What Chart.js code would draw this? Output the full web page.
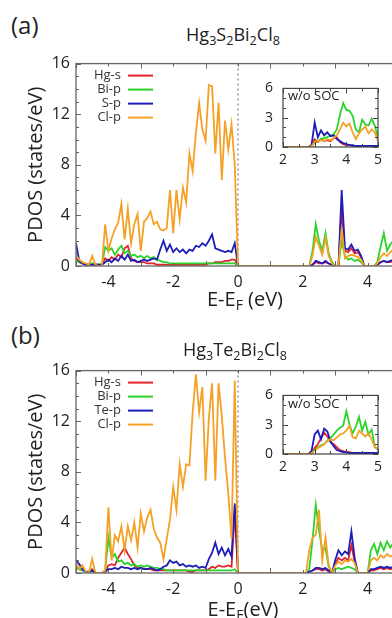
<!DOCTYPE html>
<html>
<head>
<meta charset="utf-8">
<script src="https://cdn.jsdelivr.net/npm/chart.js@4.4.1/dist/chart.umd.min.js"></script>
<style>
  html, body { margin: 0; padding: 0; background: #fff; }
  body { width: 392px; height: 618px; overflow: hidden; position: relative; font-family: "Open Sans", sans-serif; color: #222; }
  canvas { position: absolute; }
  .txt { position: absolute; white-space: nowrap; line-height: 1; }
  .mid { transform: translateX(-50%); }
  sub { font-size: 0.7em; vertical-align: -0.28em; line-height: 0; }
</style>
</head>
<body>
<div class="txt" style="left:11px;top:13px;font-size:24px">(a)</div>
<div class="txt mid" style="left:233px;top:25px;font-size:18px">Hg<sub>3</sub>S<sub>2</sub>Bi<sub>2</sub>Cl<sub>8</sub></div>
<canvas id="mainA" width="400" height="248" style="left:0;top:48px"></canvas>
<canvas id="insetA" width="147" height="99" style="left:240px;top:70px"></canvas>
<div class="txt" style="left:288px;top:89px;font-size:13px">w/o SOC</div>
<div class="txt mid" style="left:245px;top:289px;font-size:20px">E-E<sub>F</sub> (eV)</div>

<div class="txt" style="left:11px;top:323px;font-size:24px">(b)</div>
<div class="txt mid" style="left:235px;top:340px;font-size:18px">Hg<sub>3</sub>Te<sub>2</sub>Bi<sub>2</sub>Cl<sub>8</sub></div>
<canvas id="mainB" width="400" height="248" style="left:0;top:355px"></canvas>
<canvas id="insetB" width="147" height="99" style="left:240px;top:377px"></canvas>
<div class="txt" style="left:288px;top:397px;font-size:13px">w/o SOC</div>
<div class="txt mid" style="left:243px;top:599px;font-size:20px">E-E<sub>F</sub>(eV)</div>

<script>
// ---- data ----
const labelsA = ['Hg-s', 'Bi-p', 'S-p', 'Cl-p'];
const labelsB = ['Hg-s', 'Bi-p', 'Te-p', 'Cl-p'];
const lineColours = ['#e4232b', '#2bd42b', '#1d1db8', '#f4a126'];
const mainXTicks = [-4, -2, 0, 2, 4];
const mainYTicks = [0, 4, 8, 12, 16];
const insetXTicks = [2, 3, 4, 5];
const insetYTicks = [0, 3, 6];
const fermiLevel = 0;

// energies, 0.1 eV steps
function grid(from, count) {
  const out = [];
  for (let i = 0; i < count; i++) out.push(+(from + i * 0.1).toFixed(2));
  return out;
}
const valenceE = grid(-5.0, 51);    // -5.0 .. 0.0
const conductionE = grid(2.1, 30);  //  2.1 .. 5.0
const insetE = grid(2.0, 31);       //  2.0 .. 5.0

// (a) Hg3S2Bi2Cl8, valence band
const hgA = [0.6,0.3,0.2,0.1,0.1,0.2,0.1,0.1,0.1,0.6, 0.4,0.7,0.5,0.9,0.7,1.4,1.6,0.6,0.4,0.3,
  0.3,0.3,0.2,0.2,0.2,0.1,0.1,0.1,0.1,0.1, 0.1,0.1,0.1,0.1,0.1,0.1,0.1,0.1,0.1,0.1,
  0.1,0.2,0.2,0.3,0.3,0.3,0.4,0.4,0.5,0.5, 0];
const biA = [0.4,0.3,0.2,0.1,0.1,0.2,0.1,0.1,0.1,1.5, 1.2,1.4,0.9,1.3,1.6,1.0,1.2,0.8,0.9,0.7,
  0.8,0.6,0.8,0.6,0.7,0.5,0.4,0.3,0.3,0.2, 0.2,0.2,0.2,0.2,0.2,0.2,0.2,0.2,0.2,0.2,
  0.2,0.2,0.2,0.2,0.2,0.2,0.2,0.2,0.2,0.2, 0];
const sA = [1.8,0.4,0.2,0.1,0.1,0.1,0.1,0.1,0.1,0.3, 0.5,0.3,0.6,0.4,0.8,0.5,0.9,0.4,0.5,0.3,
  0.4,0.5,0.4,0.5,0.6,0.5,1.3,2.0,1.2,1.7, 1.1,1.4,1.1,1.3,1.0,1.3,1.2,1.6,1.5,1.8,
  1.6,2.0,2.5,1.4,1.3,1.2,1.1,1.2,1.1,1.8, 0];
const clA = [0.8,0.5,0.3,0.2,0.1,0.8,0.1,0.0,0.0,3.3, 1.2,2.2,2.9,3.4,4.9,2.1,4.5,1.8,3.3,4.1,
  1.2,3.5,3.8,4.3,3.3,3.5,2.9,2.8,3.0,6.0, 2.6,6.0,3.7,6.2,5.0,8.9,7.5,10.5,12.9,10.8,
  9.9,14.3,14.2,8.9,12.9,6.8,11.5,9.2,11.2,8.0, 0];
// (a) conduction band
const hgCondA = [0, 0,0.1,0.3,0.2,0.2,0.3,0.2,0.1,0, 0,4.5,1.2,1.1,1.4,1.0,1.1,0.7,0,0, 0,0,0.1,0.3,0.4,0.3,0.3,0.4,0.3,0.4];
const biCondA = [0, 0,1.2,3.3,2.0,1.2,2.6,1.0,0.3,0, 0,2.0,0.8,0.5,0.6,0.4,0.5,0.3,0,0, 0,0,0.3,1.5,2.6,1.2,1.7,2.0,1.6,1.8];
const sCondA = [0, 0,0.1,0.4,0.3,0.2,0.4,0.2,0.1,0, 0,6.0,1.4,1.3,1.7,1.2,1.3,0.8,0,0, 0,0,0.1,0.3,0.4,0.3,0.4,0.5,0.4,0.4];
const clCondA = [0, 0,0.8,2.3,1.6,0.9,2.2,0.8,0.2,0, 0,3.0,0.6,0.8,0.9,0.8,0.7,0.5,0,0, 0,0,0.2,0.7,1.0,0.8,1.1,1.3,1.0,1.2];
// (a) inset, without SOC
const hgInsetA = [0,0,0,0,0,0,0,0,0, 0.1,0.8,0.5,0.8,0.6,0.7,0.6,0.9,1.0,0.5, 0.3,0.2,0.2,0.1,0.1,0.1,0.1,0.1,0.1,0.1, 0.1,0.1];
const biInsetA = [0,0,0,0,0,0,0,0,0, 0.1,0.4,0.6,0.8,0.9,1.0,1.2,1.3,1.8,3.3, 4.5,3.8,3.7,3.2,1.8,1.5,2.8,2.3,2.2,2.9, 2.2,1.0];
const sInsetA = [0,0,0,0,0,0,0,0,0, 0.2,2.5,1.0,1.7,1.2,1.5,1.1,1.2,0.8,0.6, 0.4,0.3,0.2,0.2,0.1,0.1,0.1,0.1,0.1,0.1, 0.1,0.1];
const clInsetA = [0,0,0,0,0,0,0,0,0, 0.1,0.5,0.6,0.7,0.6,0.8,0.7,0.9,1.2,1.8, 2.5,2.1,2.4,1.5,0.8,1.4,1.8,2.1,1.4,1.8, 1.5,0.6];

// (b) Hg3Te2Bi2Cl8, valence band
const hgB = [0.5,0.3,0.2,0.1,0.0,0.3,0.0,0.0,0.0,0.1, 0.6,0.7,0.6,1.2,1.6,2.0,1.5,1.1,0.6,0.4,
  0.4,0.3,0.3,0.3,0.2,0.2,0.2,0.2,0.2,0.2, 0.2,0.2,0.2,0.2,0.2,0.1,0.1,0.2,0.2,0.2,
  0.2,0.3,0.5,0.4,0.6,0.5,0.5,0.6,0.5,4.8, 0];
const biB = [0.4,0.3,0.2,0.1,0.0,0.2,0.0,0.0,0.0,0.2, 2.8,1.2,1.5,0.9,1.0,0.7,0.8,0.6,0.7,0.5,
  0.6,0.5,0.6,0.5,0.4,0.4,0.3,0.3,0.2,0.2, 0.2,0.2,0.2,0.2,0.2,0.2,0.2,0.2,0.2,0.2,
  0.2,0.2,0.2,0.2,0.2,0.2,0.2,0.2,0.2,0.3, 0];
const teB = [1.0,0.7,0.3,0.1,0.1,0.2,0.0,0.0,0.0,0.1, 0.3,0.3,0.4,0.3,0.5,0.4,0.4,0.3,0.4,0.3,
  0.4,0.3,0.3,0.4,0.3,0.2,0.3,0.5,0.6,1.0, 0.8,0.9,0.6,0.7,0.5,0.6,0.5,0.6,0.4,0.5,
  0.4,1.1,1.6,2.4,1.5,2.0,1.4,1.9,1.3,5.5, 0];
const clB = [0.8,0.3,0.6,0.1,0.0,1.1,0.0,0.0,0.0,0.2, 5.2,1.0,3.0,2.5,3.7,1.8,3.7,2.6,4.0,2.0,
  4.7,3.3,4.4,5.0,3.5,2.8,2.4,1.1,2.7,4.2, 6.8,5.0,8.6,6.8,8.6,8.5,12.7,15.7,12.7,14.7,
  7.3,12.2,15.0,7.3,15.0,12.4,9.1,6.3,2.7,15.2, 0];
// (b) conduction band
const hgCondB = [0, 0.1,0.2,0.3,0.3,0.2,0.3,0.1,0,0.7, 1.2,1.0,1.2,1.0,2.2,0.9,0,0,0,0, 0.2,0.2,0.3,0.4,0.3,0.4,0.3,0.4,0.3,0.4];
const biCondB = [0, 0.3,2.6,5.4,3.4,1.8,2.0,0.5,0,0.3, 0.4,0.3,0.4,0.5,0.4,0.3,0,0,0,0, 1.8,2.3,1.5,2.4,1.8,2.5,2.0,2.4,2.1,2.3];
const teCondB = [0, 0.1,0.2,0.4,0.4,0.3,0.4,0.2,0,1.0, 1.8,1.4,1.7,1.5,3.3,1.2,0,0,0,0, 0.3,0.3,0.4,0.5,0.4,0.5,0.4,0.5,0.4,0.5];
const clCondB = [0, 1.8,2.8,3.0,5.0,1.0,2.8,0.6,0,0.6, 0.9,0.7,1.0,0.9,1.1,0.8,0,0,0,0, 1.0,1.2,1.0,1.4,1.2,1.5,1.3,1.4,1.3,1.4];
// (b) inset, without SOC
const hgInsetB = [0,0,0,0,0,0,0,0,0, 0.1,0.6,1.0,1.6,2.2,1.8,1.2,1.0,0.7,0.4, 0.3,0.2,0.2,0.1,0.1,0.1,0.1,0.1,0.1,0.1, 0.1,0.1];
const biInsetB = [0,0,0,0,0,0,0,0,0, 0.1,0.4,0.7,0.9,1.0,1.4,1.6,2.0,2.4,2.7, 2.9,4.4,3.0,2.1,2.8,3.8,2.4,3.3,2.0,2.5, 0.7,0.5];
const teInsetB = [0,0,0,0,0,0,0,0,0, 0.3,2.0,2.4,1.5,2.6,2.3,1.3,0.8,0.4,0.3, 0.2,0.2,0.1,0.1,0.1,0.1,0.1,0.1,0.1,0.1, 0.1,0.1];
const clInsetB = [0,0,0,0,0,0,0,0,0, 0.1,0.3,0.6,0.8,1.0,1.3,1.5,1.4,1.7,2.0, 2.1,2.4,2.9,1.7,1.6,2.4,2.1,1.8,2.1,1.5, 0.7,0.5];

// ---- drawing ----
const textColour = '#222';
const fontFamily = '"Open Sans", sans-serif';

function points(energy, values) {
  return energy.map((e, i) => ({ x: e, y: values[i] }));
}

function datasets(labels, parts) {
  // parts: for each orbital a list of [energies, values] pieces
  return labels.map((lab, k) => ({
    label: lab,
    data: parts[k].reduce((acc, p) => acc.concat(points(p[0], p[1])), []),
    borderColor: lineColours[k],
    borderWidth: 1.8,
    pointRadius: 0,
    tension: 0,
    order: labels.length - 1 - k, // Cl-p on top
  }));
}

const framePlugin = {
  id: 'frame',
  beforeDatasetsDraw(chart, args, o) {
    const { ctx, chartArea: a, scales } = chart;
    ctx.save();
    if (o.background) {
      ctx.fillStyle = o.background;
      ctx.fillRect(a.left, a.top, a.right - a.left, a.bottom - a.top);
    }
    if (o.fermi !== undefined) {
      const px = scales.x.getPixelForValue(o.fermi);
      ctx.strokeStyle = '#999';
      ctx.lineWidth = 1.5;
      ctx.setLineDash([2, 3]);
      ctx.beginPath();
      ctx.moveTo(px, a.top);
      ctx.lineTo(px, a.bottom);
      ctx.stroke();
    }
    ctx.restore();
  },
  afterDatasetsDraw(chart, args, o) {
    const { ctx, chartArea: a, scales } = chart;
    const x = scales.x, y = scales.y;
    ctx.save();
    ctx.strokeStyle = o.color;
    ctx.lineWidth = 1;
    ctx.beginPath();
    const tick = (step, len) => {
      for (let v = x.min; v <= x.max + 1e-9; v += step) {
        const px = Math.round(x.getPixelForValue(v)) + 0.5;
        ctx.moveTo(px, a.bottom); ctx.lineTo(px, a.bottom - len);
        ctx.moveTo(px, a.top); ctx.lineTo(px, a.top + len);
      }
    };
    const tickY = (step, len) => {
      for (let v = y.min; v <= y.max + 1e-9; v += step) {
        const py = Math.round(y.getPixelForValue(v)) + 0.5;
        ctx.moveTo(a.left, py); ctx.lineTo(a.left + len, py);
        ctx.moveTo(a.right, py); ctx.lineTo(a.right - len, py);
      }
    };
    tick(o.minorX, 3); tickY(o.minorY, 3);
    tick(o.majorX, 5); tickY(o.majorY, 5);
    ctx.stroke();
    ctx.lineWidth = o.width;
    ctx.strokeRect(a.left, a.top, a.right - a.left, a.bottom - a.top);
    ctx.restore();
  }
};

const textLegend = {
  id: 'textLegend',
  afterDatasetsDraw(chart, args, o) {
    if (!o.show) return;
    const { ctx, chartArea: a } = chart;
    ctx.save();
    ctx.font = '13px ' + fontFamily;
    ctx.textAlign = 'right';
    ctx.textBaseline = 'middle';
    chart.data.datasets.forEach((ds, i) => {
      const yy = a.top + 12 + i * 14;
      ctx.fillStyle = '#333';
      ctx.fillText(ds.label, a.left + 45, yy);
      ctx.strokeStyle = ds.borderColor;
      ctx.lineWidth = 2;
      ctx.beginPath();
      ctx.moveTo(a.left + 52, yy);
      ctx.lineTo(a.left + 77, yy);
      ctx.stroke();
    });
    ctx.restore();
  }
};

function fixedTicks(list) {
  return s => { s.ticks = list.map(v => ({ value: v })); };
}

function mainChart(id, labels, parts) {
  return new Chart(document.getElementById(id), {
    type: 'line',
    data: { datasets: datasets(labels, parts) },
    plugins: [framePlugin, textLegend],
    options: {
      responsive: false,
      animation: false,
      events: [],
      layout: { autoPadding: false, padding: { left: 20, top: 10, right: 0, bottom: 0 } },
      plugins: {
        legend: { display: false },
        tooltip: { enabled: false },
        frame: { fermi: fermiLevel, color: '#666', width: 1.3, majorX: 2, minorX: 1, majorY: 4, minorY: 1 },
        textLegend: { show: true },
      },
      scales: {
        x: {
          type: 'linear', min: -5, max: 5,
          afterBuildTicks: fixedTicks(mainXTicks),
          afterFit: s => { s.height = 30; },
          grid: { display: false, drawTicks: false },
          border: { display: false },
          ticks: { font: { family: fontFamily, size: 16 }, color: textColour, padding: 7, maxRotation: 0, autoSkip: false },
        },
        y: {
          min: 0, max: 16,
          afterBuildTicks: fixedTicks(mainYTicks),
          afterFit: s => { s.width = 56; },
          grid: { display: false, drawTicks: false },
          border: { display: false },
          ticks: { font: { family: fontFamily, size: 16 }, color: textColour, padding: 6 },
          title: { display: true, text: 'PDOS (states/eV)', font: { family: fontFamily, size: 20 }, color: textColour, padding: { top: 4, bottom: 0 } },
        },
      },
    },
  });
}

function insetChart(id, labels, parts) {
  return new Chart(document.getElementById(id), {
    type: 'line',
    data: { datasets: datasets(labels, parts) },
    plugins: [framePlugin],
    options: {
      responsive: false,
      animation: false,
      events: [],
      layout: { autoPadding: false, padding: { left: 0, top: 10, right: 6, bottom: 0 } },
      plugins: {
        legend: { display: false },
        tooltip: { enabled: false },
        frame: { background: '#fff', color: '#444', width: 1.2, majorX: 1, minorX: 0.5, majorY: 3, minorY: 1 },
      },
      scales: {
        x: {
          type: 'linear', min: 2, max: 5,
          afterBuildTicks: fixedTicks(insetXTicks),
          afterFit: s => { s.height = 22; },
          grid: { display: false, drawTicks: false },
          border: { display: false },
          ticks: { font: { family: fontFamily, size: 14 }, color: textColour, padding: 5, maxRotation: 0, autoSkip: false },
        },
        y: {
          min: 0, max: 6,
          afterBuildTicks: fixedTicks(insetYTicks),
          afterFit: s => { s.width = 43; },
          grid: { display: false, drawTicks: false },
          border: { display: false },
          ticks: { font: { family: fontFamily, size: 14 }, color: textColour, padding: 10 },
        },
      },
    },
  });
}

mainChart('mainA', labelsA, [
  [[valenceE, hgA], [conductionE, hgCondA]],
  [[valenceE, biA], [conductionE, biCondA]],
  [[valenceE, sA], [conductionE, sCondA]],
  [[valenceE, clA], [conductionE, clCondA]],
]);
insetChart('insetA', labelsA, [
  [[insetE, hgInsetA]], [[insetE, biInsetA]], [[insetE, sInsetA]], [[insetE, clInsetA]],
]);
mainChart('mainB', labelsB, [
  [[valenceE, hgB], [conductionE, hgCondB]],
  [[valenceE, biB], [conductionE, biCondB]],
  [[valenceE, teB], [conductionE, teCondB]],
  [[valenceE, clB], [conductionE, clCondB]],
]);
insetChart('insetB', labelsB, [
  [[insetE, hgInsetB]], [[insetE, biInsetB]], [[insetE, teInsetB]], [[insetE, clInsetB]],
]);
</script>
</body>
</html>
